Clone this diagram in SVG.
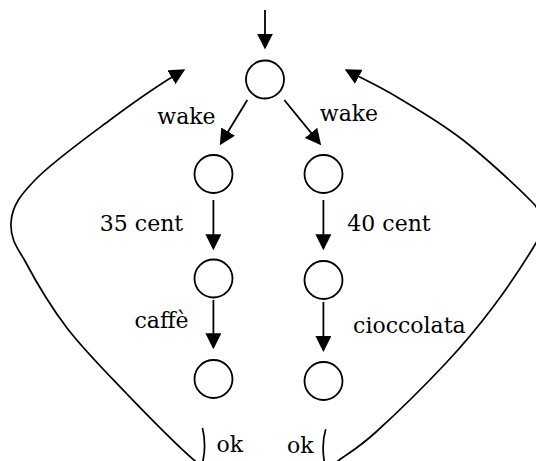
<svg xmlns="http://www.w3.org/2000/svg" width="536" height="461" viewBox="0 0 536 461">
<style>
.st{fill:none;stroke:#000;stroke-width:1.8}
.ed{fill:none;stroke:#000;stroke-width:1.8}
.lp{fill:none;stroke:#000;stroke-width:1.7}
.lb{font-family:"DejaVu Serif",serif;font-size:22px;fill:#000;text-anchor:middle}
</style>
<defs>
<marker id="ah" markerUnits="userSpaceOnUse" markerWidth="16" markerHeight="16" viewBox="0 0 14 14" refX="12" refY="7" orient="auto">
<path d="M0,0 L14,7 L0,14 Z" fill="#000"/>
</marker>
</defs>
<rect width="536" height="461" fill="#fff"/>
<g id="connectors">
<line class="ed" x1="265" y1="10" x2="265" y2="47.3" marker-end="url(#ah)"/>
<line class="ed" x1="247.3" y1="100" x2="221" y2="143.3" marker-end="url(#ah)"/>
<line class="ed" x1="284.3" y1="100" x2="319.7" y2="143.4" marker-end="url(#ah)"/>
<line class="ed" x1="213.4" y1="200" x2="213.4" y2="248" marker-end="url(#ah)"/>
<line class="ed" x1="213.4" y1="300" x2="213.4" y2="347" marker-end="url(#ah)"/>
<line class="ed" x1="323.4" y1="200" x2="323.4" y2="248" marker-end="url(#ah)"/>
<line class="ed" x1="323.4" y1="302" x2="323.4" y2="349.7" marker-end="url(#ah)"/>
<path class="lp" d="M202.5,428 C205.5,441 205,453 202.5,463 L200,472 M210,474 L195,461 C172,441 148.3,416.2 127,394 C105.7,371.8 84,350.2 67,328 C50,305.8 34.3,278.5 25,261 C19,250 10.2,241 11,223 C11.8,205 21.8,193.8 35,180 C51.5,162.8 85,138.6 110,120 C135,101.4 166,80.4 183.3,70.3" marker-end="url(#ah)"/>
<path class="lp" d="M325.7,429.3 C322.5,440 322.5,452 324.5,463 L326,472 M330,467 L339.3,460 C347.6,453.8 358.2,448.2 376,432 C393.8,415.8 426.5,383.8 446,363 C465.5,342.2 478,327 493,307 C508,287 527.5,257.2 536,243 C542.8,231.6 543,213 533,203 C520,189.3 485.7,157.7 463,140 C440.3,122.3 416.7,108.8 397,97 C377.3,85.2 362.4,78.8 346.7,70.3" marker-end="url(#ah)"/>
</g>
<g id="n0"><circle class="st" cx="265" cy="79.5" r="19"/></g>
<g id="n1"><circle class="st" cx="213.5" cy="174" r="19"/></g>
<g id="n2"><circle class="st" cx="213.5" cy="278.5" r="19"/></g>
<g id="n3"><circle class="st" cx="213.5" cy="379" r="19"/></g>
<g id="n4"><circle class="st" cx="323.5" cy="174" r="19"/></g>
<g id="n5"><circle class="st" cx="323.5" cy="280" r="19"/></g>
<g id="n6"><circle class="st" cx="323.5" cy="381" r="19"/></g>
<g id="labels">
<text class="lb" x="186.5" y="123.5">wake</text>
<text class="lb" x="349" y="121">wake</text>
<text class="lb" x="141.5" y="231">35 cent</text>
<text class="lb" x="389" y="231">40 cent</text>
<text class="lb" x="161.5" y="327.5">caffè</text>
<text class="lb" x="409.4" y="333">cioccolata</text>
<text class="lb" x="229.7" y="451.7">ok</text>
<text class="lb" x="300.3" y="453">ok</text>
</g>
</svg>
